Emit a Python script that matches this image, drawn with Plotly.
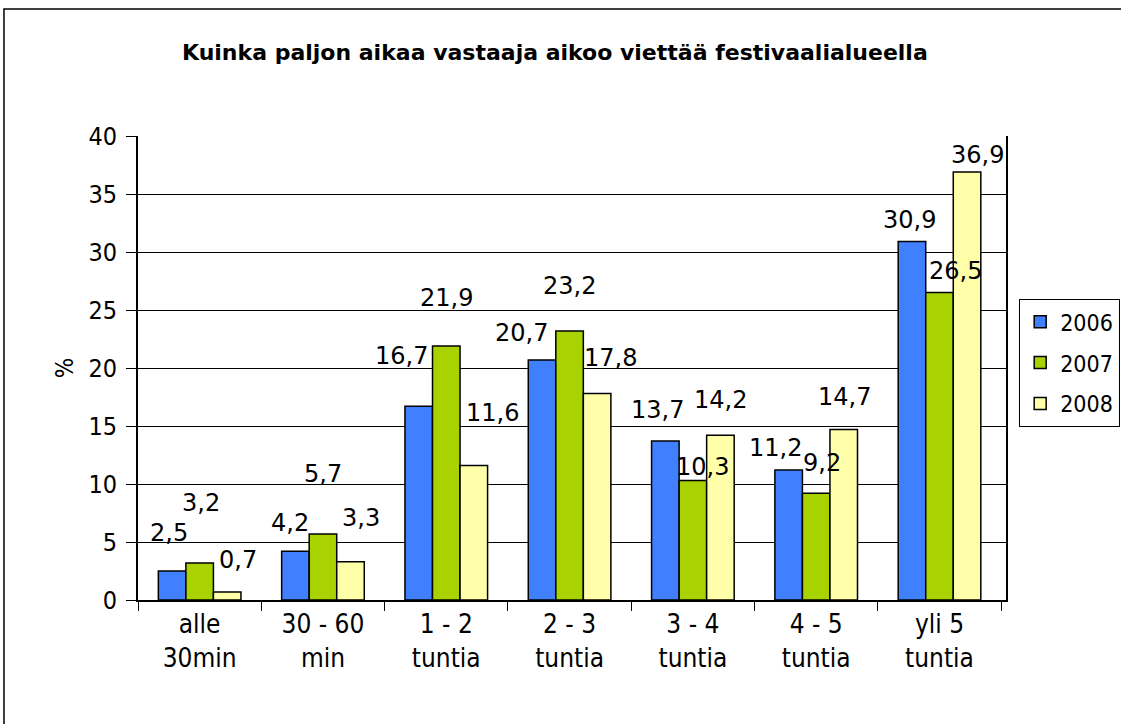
import plotly.graph_objects as go

categories = ["alle<br>30min", "30 - 60<br>min", "1 - 2<br>tuntia", "2 - 3<br>tuntia",
              "3 - 4<br>tuntia", "4 - 5<br>tuntia", "yli 5<br>tuntia"]
series_names = ["2006", "2007", "2008"]
values_2006 = [2.5, 4.2, 16.7, 20.7, 13.7, 11.2, 30.9]
values_2007 = [3.2, 5.7, 21.9, 23.2, 10.3, 9.2, 26.5]
values_2008 = [0.7, 3.3, 11.6, 17.8, 14.2, 14.7, 36.9]
y_ticks = [0, 5, 10, 15, 20, 25, 30, 35, 40]

title_text = "Kuinka paljon aikaa vastaaja aikoo viettää festivaalialueella"

# styling
colors = ["#4080FF", "#A8D200", "#FFFFAA"]
series_shift = [-28, 0, 28]          # px offset of each series' bar centre
label_dx = [[-3, -5, -17, -20, -7, -13, -2],
            [1, 0, 0, 0, 10, 6, 16],
            [10, 10, 18, 13, 0, 0, 10]]
label_dy = [[38, 28, 50, 27, 31, 22, 22],
            [60, 60, 48, 45, 14, 30, 22],
            [32, 44, 52, 36, 35, 32, 17]]

FONT = "DejaVu Sans Condensed"
all_values = [values_2006, values_2007, values_2008]

fig = go.Figure()
for name, vals, col in zip(series_names, all_values, colors):
    fig.add_trace(go.Bar(x=categories, y=vals, name=name, legendgroup=name,
                         marker=dict(color=col, line=dict(color="#000000", width=1.5)),
                         hoverinfo="skip"))

annotations = []
for s, vals in enumerate(all_values):
    for i, v in enumerate(vals):
        annotations.append(dict(
            x=categories[i], y=v, xref="x", yref="y",
            text=f"{v:.1f}".replace(".", ","), showarrow=False,
            xshift=series_shift[s] + label_dx[s][i], yshift=label_dy[s][i],
            xanchor="center", yanchor="middle",
            font=dict(family="DejaVu Sans", size=24, color="#000000")))

# outer chart border
shapes = [dict(type="rect", xref="paper", yref="paper",
               x0=-0.1544, x1=1.14, y0=-0.30, y1=1.2737,
               line=dict(color="#000000", width=1.5), fillcolor="rgba(0,0,0,0)", layer="below")]

fig.update_layout(
    width=1121, height=724,
    margin=dict(l=138, r=115, t=136, b=124, autoexpand=False),
    paper_bgcolor="#FFFFFF", plot_bgcolor="#FFFFFF",
    barmode="group", bargap=0.33, bargroupgap=0,
    font=dict(family=FONT, size=24, color="#000000"),
    title=dict(text="<b>" + title_text + "</b>", x=0.495, xanchor="center",
               y=0.928, yanchor="middle",
               font=dict(family="DejaVu Sans", size=22, color="#000000")),
    legend=dict(xref="container", yref="container", x=0.909, xanchor="left",
                y=0.587, yanchor="top",
                bordercolor="#000000", borderwidth=1.2, bgcolor="#FFFFFF",
                font=dict(family=FONT, size=23), tracegroupgap=8,
                itemwidth=30),
    annotations=annotations,
    shapes=shapes,
    showlegend=True,
)

fig.update_yaxes(range=[0, 40], tickvals=y_ticks, ticks="outside", ticklen=10,
                 tickcolor="#000000", showgrid=True, gridcolor="#000000", gridwidth=1,
                 showline=True, linecolor="#000000", linewidth=2, mirror=True,
                 zeroline=False, tickfont=dict(family=FONT, size=25),
                 ticklabelstandoff=4,
                 title=dict(text="%", font=dict(family=FONT, size=24), standoff=8))
fig.update_xaxes(ticks="outside", tickson="boundaries", ticklen=9, tickcolor="#000000",
                 showline=True, linecolor="#000000", linewidth=2,
                 tickfont=dict(family=FONT, size=26))

fig.write_html("out.html", config={"displayModeBar": False},
               post_script="document.body.style.margin='0';")
